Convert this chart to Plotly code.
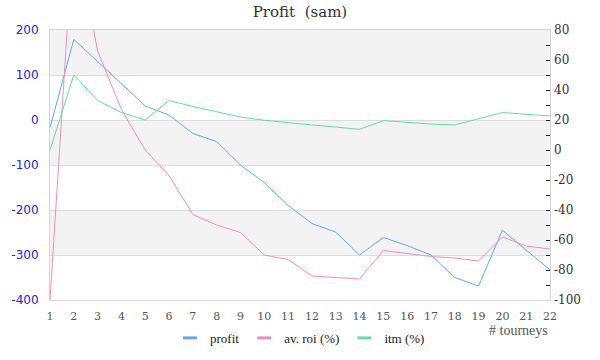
import plotly.graph_objects as go

tourneys = list(range(1, 23))
profit = [-17, 179, 130, 80, 31, 11, -30, -48, -100, -139, -190, -230, -249, -300,
          -261, -279, -300, -350, -369, -245, -290, -333]
av_roi = [-100, 150, 66, 27, 0, -17, -43, -50, -55, -70, -73, -84, -85, -86,
          -67, -69, -71, -72, -74, -58, -64, -66]
itm = [0, 50, 33, 25, 20, 33, 29, 25.6, 22, 19.8, 18, 16.7, 15.3, 13.8,
       19.6, 18.4, 17.3, 16.7, 20.9, 25, 23.8, 22.7]

left_ticks = [-400, -300, -200, -100, 0, 100, 200]
right_ticks = [-100, -80, -60, -40, -20, 0, 20, 40, 60, 80]

C_BLUE = "#62a9f0"
C_PINK = "#f58cbf"
C_GREEN = "#5fe0a0"
SERIF = "DejaVu Serif"
SERIF2 = "Liberation Serif"

fig = go.Figure()

# alternating bands (every other interval of the left axis)
for i in range(len(left_ticks) - 1):
    if (len(left_ticks) - 2 - i) % 2 == 0:
        fig.add_shape(type="rect", xref="paper", yref="y", x0=0, x1=1,
                      y0=left_ticks[i], y1=left_ticks[i + 1],
                      fillcolor="#f3f3f3", line_width=0, layer="below")

fig.add_trace(go.Scatter(x=tourneys, y=profit, mode="lines", name="profit",
                         line=dict(color=C_BLUE, width=1), yaxis="y", showlegend=False))
fig.add_trace(go.Scatter(x=tourneys, y=av_roi, mode="lines", name="av. roi (%)",
                         line=dict(color=C_PINK, width=1), yaxis="y2", showlegend=False))
fig.add_trace(go.Scatter(x=tourneys, y=itm, mode="lines", name="itm (%)",
                         line=dict(color=C_GREEN, width=1), yaxis="y2", showlegend=False))

# legend entries
for name, col in [("profit", C_BLUE), ("av. roi (%)", C_PINK), ("itm (%)", C_GREEN)]:
    fig.add_trace(go.Scatter(x=[None], y=[None], mode="markers", name=name,
                             marker=dict(symbol="line-ew", size=10,
                                         line=dict(color=col, width=3))))

fig.update_layout(
    width=600, height=360,
    margin=dict(l=50, r=50, t=30, b=60, autoexpand=False),
    paper_bgcolor="white", plot_bgcolor="white",
    title=dict(text="Profit  (sam)", x=0.5, xanchor="center", y=0.968, yanchor="middle",
               font=dict(family=SERIF, size=15, color="#333333")),
    xaxis=dict(range=[1, 22], tickvals=tourneys, ticktext=[str(t) for t in tourneys],
               showgrid=False, zeroline=False, showline=True, mirror=True,
               linecolor="#d6d6d6", linewidth=1, ticks="", automargin=False,
               ticklabelstandoff=6,
               tickfont=dict(family=SERIF, size=11, color="#555555")),
    yaxis=dict(range=[-400, 200], tickvals=left_ticks,
               ticktext=[str(v) for v in left_ticks], showgrid=True,
               gridcolor="#dddddd", gridwidth=1, zeroline=False, automargin=False,
               showline=True, mirror=True, linecolor="#d6d6d6", ticks="",
               ticklabelstandoff=8,
               tickfont=dict(family="DejaVu Sans", size=12, color="#2020f8")),
    yaxis2=dict(range=[-100, 80], tickvals=right_ticks,
                ticktext=[str(v) for v in right_ticks], overlaying="y", side="right",
                showgrid=False, zeroline=False, showline=False, automargin=False,
                ticks="inside", ticklen=4, tickcolor="#222222", ticklabelstandoff=3,
                minor=dict(dtick=10, ticks="inside", ticklen=4, tickcolor="#222222"),
                tickfont=dict(family=SERIF, size=12, color="#333333")),
    legend=dict(orientation="h", x=0.5, xanchor="center", y=-0.085, yanchor="top",
                font=dict(family=SERIF2, size=13, color="#222222"),
                itemwidth=30, tracegroupgap=0),
    showlegend=True,
)

fig.add_annotation(text="# tourneys", xref="paper", yref="paper", x=1, y=-0.078,
                   xanchor="right", yanchor="top", showarrow=False,
                   font=dict(family=SERIF2, size=14, color="#555555"))

fig.write_html("out.html", config={"displayModeBar": False},
               post_script="document.body.style.margin='0';")
